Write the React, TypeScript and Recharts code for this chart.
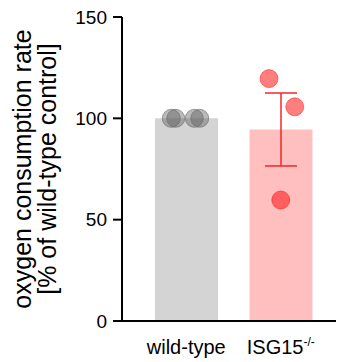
import React from 'react';
import { ComposedChart, Bar, Cell, XAxis, YAxis, Scatter, ErrorBar } from 'recharts';

const CATEGORIES = ['wild-type', 'ISG15'];
const TICK_SUPERSCRIPTS = ['', '-/-'];
const MEANS = [100, 94.5];
const SEMS = [null, 18];
const WT_POINTS = [100, 100, 100, 100];
const KO_POINTS = [119.6, 105.7, 59.7];
const Y_TICKS = [0, 50, 100, 150];
const Y_LABEL_LINES = ['oxygen consumption rate', '[% of wild-type control]'];

const FONT = '"Liberation Sans", Arial, Helvetica, sans-serif';
const BAR_COLORS = ['#d4d4d4', '#ffbfbf'];
// horizontal spread (px) of replicate dots, per group
const SPREAD = [
  [-15, -10.5, 8, 13.5],
  [-11.7, 14, 0],
];

const barData = CATEGORIES.map((name, i) => ({ name, mean: MEANS[i], sem: SEMS[i] }));
const pointData = [
  ...WT_POINTS.map((v, i) => ({ name: CATEGORIES[0], value: v, g: 0, rep: i })),
  ...KO_POINTS.map((v, i) => ({ name: CATEGORIES[1], value: v, g: 1, rep: i })),
];

const Dot = (props: any) => {
  const { cx, cy, payload } = props;
  if (cx == null || cy == null) return null;
  const dx = SPREAD[payload.g][payload.rep];
  if (payload.g === 0) {
    return (
      <circle cx={cx + dx} cy={cy} r={9} fill="#5a5a5a" fillOpacity={0.42} stroke="#6a6a6a" strokeOpacity={0.6} strokeWidth={1} />
    );
  }
  return (
    <circle cx={cx + dx} cy={cy} r={9} fill="#ff0000" fillOpacity={0.5} stroke="#ff0000" strokeOpacity={0.45} strokeWidth={1} />
  );
};

const XTick = (props: any) => {
  const { x, y, payload, index } = props;
  const i = CATEGORIES.indexOf(payload.value);
  const sup = TICK_SUPERSCRIPTS[i >= 0 ? i : index];
  return (
    <text x={x} y={y} textAnchor="middle" fontSize={20} fontFamily={FONT} fill="#000" dy="0.71em">
      <tspan>{payload.value}</tspan>
      {sup ? (
        <tspan fontSize={12} dy={-8}>{sup}</tspan>
      ) : null}
    </text>
  );
};

const YLabel = (props: any) => {
  const { viewBox } = props;
  const cx = viewBox.x + 31;
  const cy = viewBox.y + viewBox.height / 2;
  return (
    <text transform={`translate(${cx},${cy}) rotate(-90)`} textAnchor="middle" fontSize={25} fontFamily={FONT} fill="#000">
      <tspan x={0} dy={0}>{Y_LABEL_LINES[0]}</tspan>
      <tspan x={0} dy={25}>{Y_LABEL_LINES[1]}</tspan>
    </text>
  );
};

export default function App() {
  return (
    <div style={{ position: 'absolute', left: 0, top: 0, width: 337, height: 362, background: '#fff' }}>
      <ComposedChart width={337} height={362} data={barData} margin={{ top: 17, right: 1, bottom: 0, left: 0 }}>
        <XAxis
          dataKey="name"
          type="category"
          allowDuplicatedCategory={false}
          padding={{ left: 17, right: 8 }}
          height={41}
          tickLine={false}
          tickSize={0}
          tickMargin={19}
          tick={<XTick />}
          axisLine={{ stroke: '#000', strokeWidth: 2 }}
          interval={0}
        />
        <YAxis
          type="number"
          domain={[0, 150]}
          ticks={Y_TICKS}
          width={122}
          tickSize={9}
          tickMargin={6}
          axisLine={{ stroke: '#000', strokeWidth: 2 }}
          tickLine={{ stroke: '#000', strokeWidth: 2 }}
          tick={{ fontSize: 19, fontFamily: FONT, fill: '#000' }}
          label={<YLabel />}
        />
        <Bar dataKey="mean" barSize={63} isAnimationActive={false}>
          {barData.map((d, i) => (
            <Cell key={d.name} fill={BAR_COLORS[i]} />
          ))}
          <ErrorBar dataKey="sem" width={16} stroke="#f02828" strokeWidth={1.5} direction="y" />
        </Bar>
        <Scatter data={pointData} dataKey="value" shape={<Dot />} isAnimationActive={false} />
      </ComposedChart>
    </div>
  );
}
